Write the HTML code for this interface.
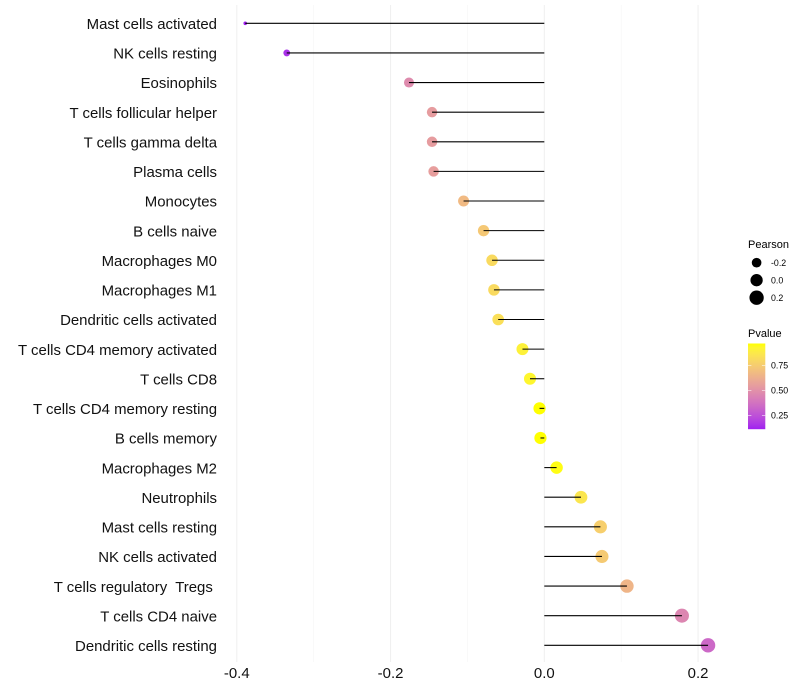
<!DOCTYPE html>
<html>
<head>
<meta charset="utf-8">
<title>Pearson lollipop chart</title>
<style>
html,body{margin:0;padding:0;background:#fff;}
svg{display:block;font-family:"Liberation Sans",sans-serif;}
</style>
</head>
<body>
<svg id="chart" xmlns="http://www.w3.org/2000/svg" width="800" height="700" viewBox="0 0 800 700">
<defs><linearGradient id="pgrad" x1="0" y1="1" x2="0" y2="0"></linearGradient></defs>
<rect width="800" height="700" fill="#fff"></rect>
<g id="grid"></g>
<g id="points"></g>
<g id="stems"></g>
<g id="ylabels"></g>
<g id="xlabels"></g>
<g id="sizeLegend">
<text x="748" y="248" font-size="11" fill="#000">Pearson</text>
</g>
<g id="colorLegend">
<text x="748" y="337" font-size="11" fill="#000">Pvalue</text>
<rect id="pbar" x="748" y="343.5" width="17.3" height="85.7" fill="url(#pgrad)"></rect>
</g>
</svg>
<script>
const categories = ["Mast cells activated","NK cells resting","Eosinophils","T cells follicular helper","T cells gamma delta","Plasma cells","Monocytes","B cells naive","Macrophages M0","Macrophages M1","Dendritic cells activated","T cells CD4 memory activated","T cells CD8","T cells CD4 memory resting","B cells memory","Macrophages M2","Neutrophils","Mast cells resting","NK cells activated","T cells regulatory  Tregs ","T cells CD4 naive","Dendritic cells resting"];
const pearson = [-0.389,-0.335,-0.176,-0.146,-0.146,-0.144,-0.105,-0.079,-0.068,-0.0655,-0.06,-0.0284,-0.0186,-0.0062,-0.005,0.016,0.0477,0.073,0.075,0.1075,0.179,0.213];
const pvalue = [0.11,0.15,0.48,0.55,0.55,0.56,0.68,0.74,0.82,0.82,0.84,0.92,0.94,0.98,0.98,0.97,0.87,0.77,0.75,0.66,0.46,0.34];
const xTicks = [-0.4,-0.2,0.0,0.2];
const xMinorTicks = [-0.3,-0.1,0.1];
const sizeBreaks = [-0.2,0.0,0.2];
const pBreaks = [0.75,0.50,0.25];

const NS = "http://www.w3.org/2000/svg";
function make(parent, tag, attrs, text) {
  const el = document.createElementNS(NS, tag);
  for (const k in attrs) el.setAttribute(k, attrs[k]);
  if (text !== undefined) { el.textContent = text; el.setAttribute('xml:space', 'preserve'); el.style.whiteSpace = 'pre'; }
  parent.appendChild(el);
  return el;
}
const $ = id => document.getElementById(id);

/* axis functions */
const xScale = v => 544.3 + v * 768.8;
const yScale = i => 23.3 + i * 29.62;
const pMin = Math.min(...pvalue), pMax = Math.max(...pvalue);
const pToY = p => 415.3 - (p - 0.25) / 0.25 * 24.9;
const sMin = Math.min(...pearson), sMax = Math.max(...pearson);
const radius = v => 1.8 + 5.4 * Math.sqrt(Math.max(0, (v - sMin) / (sMax - sMin)));

/* Lab colour interpolation, purple to yellow */
function toLab(c) {
  const f = u => { u /= 255; return u > 0.04045 ? Math.pow((u + 0.055) / 1.055, 2.4) : u / 12.92; };
  const r = f(c[0]), g = f(c[1]), b = f(c[2]);
  const X = (0.4124 * r + 0.3576 * g + 0.1805 * b) / 0.95047;
  const Y = 0.2126 * r + 0.7152 * g + 0.0722 * b;
  const Z = (0.0193 * r + 0.1192 * g + 0.9505 * b) / 1.08883;
  const h = t => t > 0.008856 ? Math.cbrt(t) : 7.787 * t + 16 / 116;
  return [116 * h(Y) - 16, 500 * (h(X) - h(Y)), 200 * (h(Y) - h(Z))];
}
function fromLab(l) {
  const fy = (l[0] + 16) / 116, fx = fy + l[1] / 500, fz = fy - l[2] / 200;
  const g = t => t * t * t > 0.008856 ? t * t * t : (t - 16 / 116) / 7.787;
  const X = g(fx) * 0.95047, Y = g(fy), Z = g(fz) * 1.08883;
  const rgb = [3.2406 * X - 1.5372 * Y - 0.4986 * Z, -0.9689 * X + 1.8758 * Y + 0.0415 * Z, 0.0557 * X - 0.204 * Y + 1.057 * Z];
  const out = rgb.map(u => {
    u = Math.max(0, Math.min(1, u));
    u = u > 0.0031308 ? 1.055 * Math.pow(u, 1 / 2.4) - 0.055 : 12.92 * u;
    return Math.round(u * 255);
  });
  return "rgb(" + out.join(",") + ")";
}
const labLo = toLab([160, 32, 240]), labHi = toLab([255, 255, 0]);
function colorAt(t) {
  t = Math.max(0, Math.min(1, t));
  return fromLab(labLo.map((v, i) => v + (labHi[i] - v) * t));
}
const pColor = p => colorAt((p - pMin) / (pMax - pMin));

/* grid */
xMinorTicks.forEach(v => {
  const el = make($('grid'), 'line', {x1: xScale(v), x2: xScale(v), y1: 5, y2: 662, stroke: '#f4f4f4', 'stroke-width': 0.55});
  
  
});
xTicks.forEach(v => {
  const el = make($('grid'), 'line', {x1: xScale(v), x2: xScale(v), y1: 5, y2: 662, stroke: '#f0f0f0', 'stroke-width': 1.07});
  
  
  const lab = make($('xlabels'), 'text', {x: xScale(v), y: 678, 'text-anchor': 'middle', 'font-size': 14.95, fill: '#111'}, v.toFixed(1));
  
  
});

/* marks */
categories.forEach((name, i) => {
  const y = yScale(i), v = pearson[i];
  const dot = make($('points'), 'circle', {cx: xScale(v), cy: y, r: radius(v), fill: pColor(pvalue[i])});
  
  
  const stem = make($('stems'), 'line', {x1: xScale(0), x2: xScale(v), y1: y, y2: y, stroke: '#000', 'stroke-width': 1.07});
  
  
  const lab = make($('ylabels'), 'text', {x: 217, y: y + 5.7, 'text-anchor': 'end', 'font-size': 14.95, fill: '#111'}, name);
  
  
});

/* size legend */
sizeBreaks.forEach((v, i) => {
  const y = 262.7 + i * 17.5;
  const dot = make($('sizeLegend'), 'circle', {cx: 756.6, cy: y, r: radius(v), fill: '#000'});
  
  
  const lab = make($('sizeLegend'), 'text', {x: 771, y: y + 3.2, 'font-size': 8.8, fill: '#000'}, v.toFixed(1));
  
  
});

/* colour bar */
for (let s = 0; s <= 20; s++) {
  make($('pgrad'), 'stop', {offset: (s * 5) + '%', 'stop-color': colorAt(s / 20)});
}
pBreaks.forEach(p => {
  const y = pToY(p);
  [[748, 751.4], [761.9, 765.3]].forEach(seg => {
    const t = make($('colorLegend'), 'line', {x1: seg[0], x2: seg[1], y1: y, y2: y, stroke: '#fff', 'stroke-width': 0.55});
    
    
  });
  const lab = make($('colorLegend'), 'text', {x: 771, y: y + 3.2, 'font-size': 8.8, fill: '#000'}, p.toFixed(2));
  
  
});
</script>
</body>
</html>
